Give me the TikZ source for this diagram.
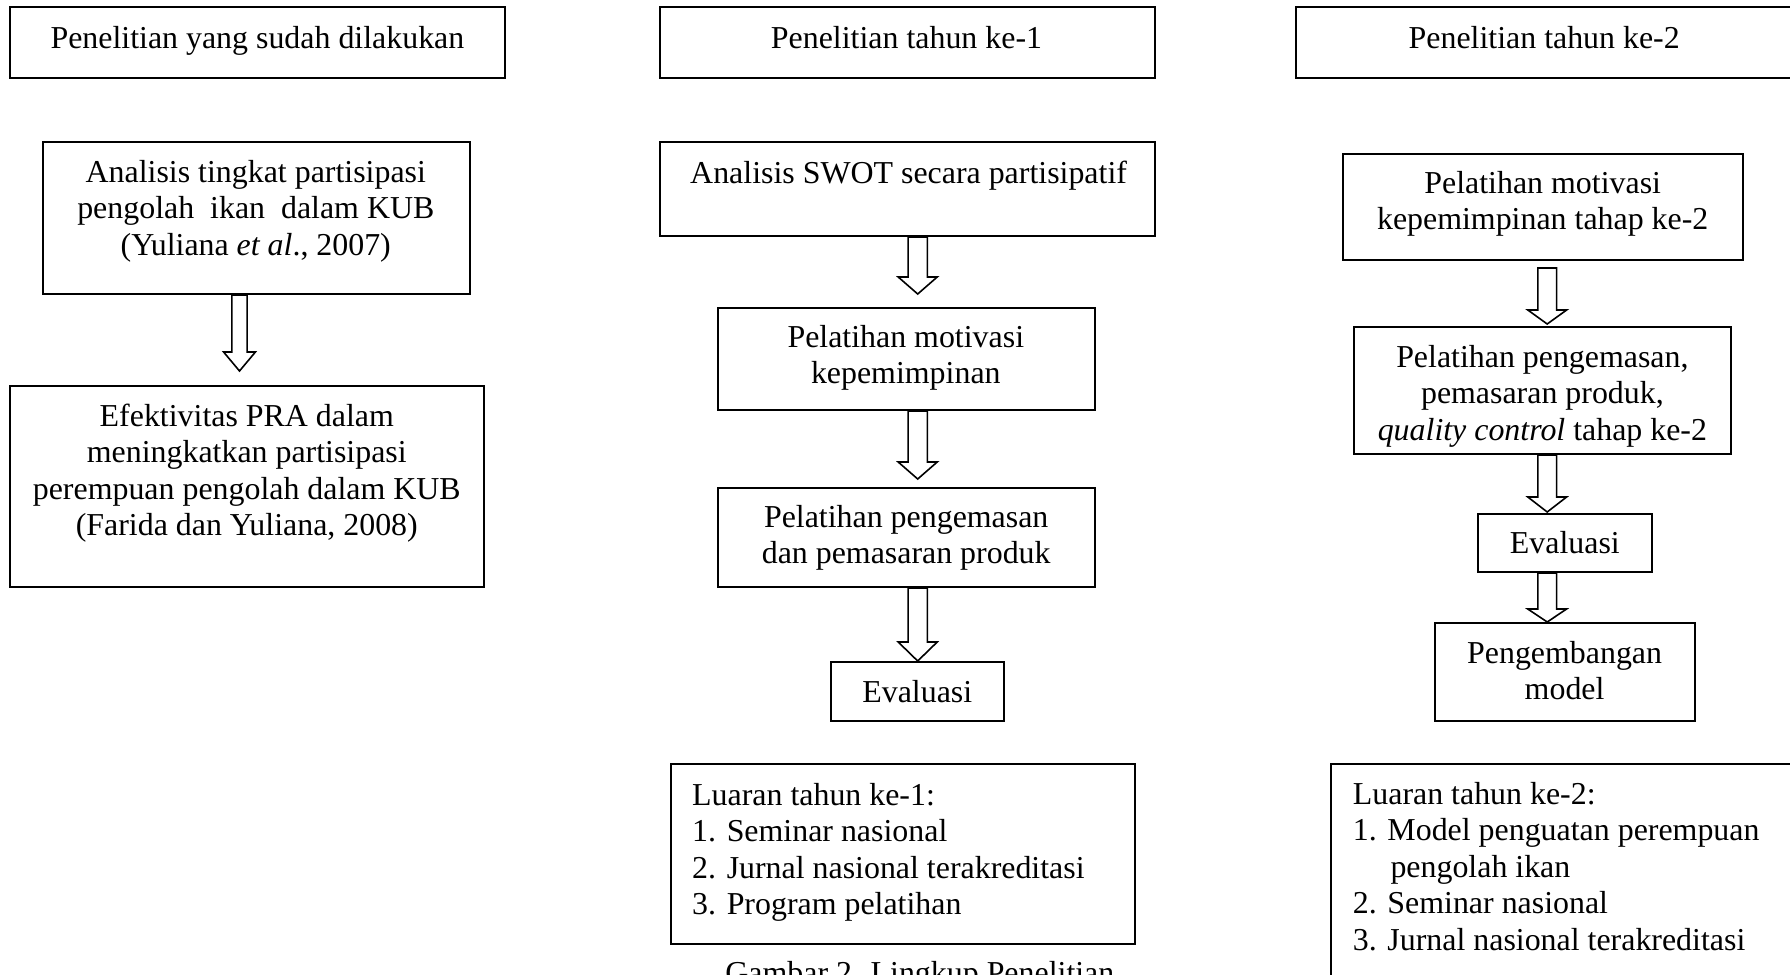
\documentclass[tikz,border=0pt]{standalone}
\usepackage{fontspec}
\setmainfont{Liberation Serif}
\usetikzlibrary{calc,fit}
\newcommand\mycenter[1]{\parbox[t]{320pt}{\centering #1}}
\newcommand\myleft[1]{\parbox[t]{320pt}{\raggedright #1}}
\begin{document}
\begin{tikzpicture}[x=0.5pt,y=-0.5pt,
  box/.style={draw, line width=1pt, inner sep=0pt},
  txt/.style={inner sep=0pt, font=\fontsize{15.95}{18.3}\selectfont},
  blockarrow/.style n args={3}{draw, line width=0.8pt, line join=miter, to path={
    ($(\tikztostart)+(-#1,0pt)$) -- ($(\tikztotarget)+(-#1,#3)$) -- ($(\tikztotarget)+(-#2,#3)$)
    -- (\tikztotarget) -- ($(\tikztotarget)+(#2,#3)$) -- ($(\tikztotarget)+(#1,#3)$)
    -- ($(\tikztostart)+(#1,0pt)$) -- cycle}}]
\path[use as bounding box, fill=white] (0,0) rectangle (1790,975);

% ---------- column 1 ----------
\node[box, fit={(10,7) (505,78)}] (a0) {};
\node[txt, anchor=base] (a0t) at (257.4,48) {Penelitian yang sudah dilakukan};
\node[box, fit={(43,142) (470,294)}] (a1) {};
\node[txt, anchor=base] (a1t) at (255.8,182) {\mycenter{Analisis tingkat partisipasi\\ pengolah\ \ ikan\ \ dalam KUB\\ (Yuliana \textit{et al}., 2007)}};
\node[box, fit={(10.3,386) (484,587)}] (a2) {};
\node[txt, anchor=base] (a2t) at (246.8,426) {\mycenter{Efektivitas PRA dalam\\ meningkatkan partisipasi\\ perempuan pengolah dalam KUB\\ (Farida dan Yuliana, 2008)}};

% ---------- column 2 ----------
\node[box, fit={(660,7) (1155,78)}] (b0) {};
\node[txt, anchor=base] (b0t) at (906.5,48) {Penelitian tahun ke-1};
\node[box, fit={(660,142) (1155,236)}] (b1) {};
\node[txt, anchor=base] (b1t) at (908.6,183) {Analisis SWOT secara partisipatif};
\node[box, fit={(718,308) (1094.5,410)}] (b2) {};
\node[txt, anchor=base] (b2t) at (905.8,347) {\mycenter{Pelatihan motivasi\\ kepemimpinan}};
\node[box, fit={(718,488) (1094.5,587)}] (b3) {};
\node[txt, anchor=base] (b3t) at (906.2,527) {\mycenter{Pelatihan pengemasan\\ dan pemasaran produk}};
\node[box, fit={(831,662) (1003.7,721)}] (b4) {};
\node[txt, anchor=base] (b4t) at (917.3,702) {Evaluasi};
\node[box, fit={(671,764) (1135,944)}] (b5) {};
\node[txt, anchor=base west] (b5t) at (691.8,805) {\myleft{Luaran tahun ke-1:\\ 1. Seminar nasional\\ 2. Jurnal nasional terakreditasi\\ 3. Program pelatihan}};
\node[txt, anchor=base west] (cap) at (725,983) {Gambar 2. Lingkup Penelitian};

% ---------- column 3 ----------
\node[box, fit={(1296,7) (1830,78)}] (c0) {};
\node[txt, anchor=base] (c0t) at (1544.2,48) {Penelitian tahun ke-2};
\node[box, fit={(1343,154) (1743,260)}] (c1) {};
\node[txt, anchor=base] (c1t) at (1542.7,193) {\mycenter{Pelatihan motivasi\\ kepemimpinan tahap ke-2}};
\node[box, fit={(1354.3,327) (1730.5,454)}] (c2) {};
\node[txt, anchor=base] (c2t) at (1542.4,367) {\mycenter{Pelatihan pengemasan,\\ pemasaran produk,\\ \textit{quality control} tahap ke-2}};
\node[box, fit={(1478.4,514) (1651.5,572)}] (c3) {};
\node[txt, anchor=base] (c3t) at (1564.9,553) {Evaluasi};
\node[box, fit={(1435,623) (1694.7,721)}] (c4) {};
\node[txt, anchor=base] (c4t) at (1564.6,663) {\mycenter{Pengembangan\\ model}};
\node[box, fit={(1331,764) (1830,1010)}] (c5) {};
\node[txt, anchor=base west] (c5t) at (1352.5,804) {\myleft{Luaran tahun ke-2:\\ 1. Model penguatan perempuan\\ \hspace*{18.8pt}pengolah ikan\\ 2. Seminar nasional\\ 3. Jurnal nasional terakreditasi}};

% ---------- arrow axes ----------
\coordinate (axA) at (239.5,0);
\coordinate (axB) at (917.7,0);
\coordinate (axC) at (1547.2,0);

\coordinate (a1o) at (a1.south -| axA);
\coordinate (a2i) at ($(a2.north -| axA)+(0,-14)$);
\coordinate (b1o) at (b1.south -| axB);
\coordinate (b2i) at ($(b2.north -| axB)+(0,-13)$);
\coordinate (b2o) at (b2.south -| axB);
\coordinate (b3i) at ($(b3.north -| axB)+(0,-8)$);
\coordinate (b3o) at (b3.south -| axB);
\coordinate (b4i) at (b4.north -| axB);
\coordinate (c1o) at ($(c1.south -| axC)+(0,7)$);
\coordinate (c2i) at ($(c2.north -| axC)+(0,-2)$);
\coordinate (c2o) at (c2.south -| axC);
\coordinate (c3i) at ($(c3.north -| axC)+(0,-1)$);
\coordinate (c3o) at (c3.south -| axC);
\coordinate (c4i) at (c4.north -| axC);

\draw[blockarrow={3.83pt}{7.95pt}{9.5pt}] (a1o) to (a2i);
\draw[blockarrow={4.8pt}{9.75pt}{8.5pt}] (b1o) to (b2i);
\draw[blockarrow={4.8pt}{9.75pt}{8.5pt}] (b2o) to (b3i);
\draw[blockarrow={4.8pt}{9.75pt}{9.5pt}] (b3o) to (b4i);
\draw[blockarrow={4.7pt}{9.7pt}{7pt}] (c1o) to (c2i);
\draw[blockarrow={4.7pt}{9.7pt}{7.5pt}] (c2o) to (c3i);
\draw[blockarrow={4.7pt}{9.7pt}{6.5pt}] (c3o) to (c4i);
\end{tikzpicture}
\end{document}
